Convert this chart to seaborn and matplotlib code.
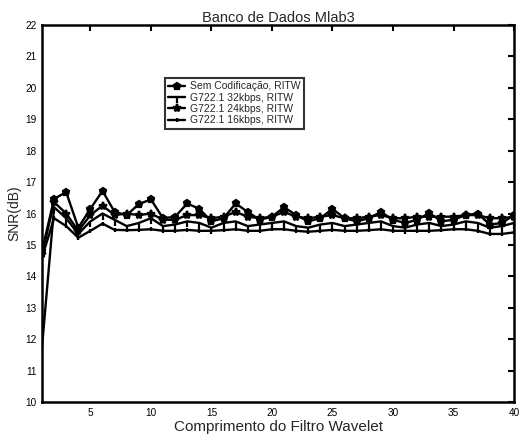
import matplotlib
matplotlib.use("Agg")
import matplotlib.pyplot as plt
import seaborn as sns
import pandas as pd
import numpy as np

x = list(range(1, 41))

sem_cod = [14.8, 16.47, 16.68, 15.55, 16.15, 16.72, 16.05, 15.95, 16.3, 16.45,
           15.85, 15.9, 16.32, 16.15, 15.75, 15.85, 16.32, 16.05, 15.8, 15.9,
           16.2, 15.95, 15.75, 15.85, 16.15, 15.85, 15.75, 15.85, 16.05, 15.8,
           15.7, 15.8, 16.02, 15.75, 15.8, 15.95, 16.0, 15.65, 15.7, 15.95]

k32 = [11.75, 16.2, 15.85, 15.35, 15.75, 16.0, 15.8, 15.6, 15.7, 15.85,
       15.6, 15.65, 15.75, 15.7, 15.55, 15.7, 15.75, 15.6, 15.65, 15.7,
       15.75, 15.6, 15.55, 15.65, 15.7, 15.6, 15.65, 15.7, 15.75, 15.6,
       15.55, 15.65, 15.7, 15.6, 15.65, 15.75, 15.7, 15.55, 15.6, 15.7]

k24 = [14.7, 16.36, 16.0, 15.45, 15.95, 16.25, 15.95, 16.0, 15.95, 16.0,
       15.8, 15.8, 15.95, 15.95, 15.85, 15.9, 16.05, 15.9, 15.85, 15.9,
       16.05, 15.9, 15.85, 15.9, 15.95, 15.85, 15.85, 15.9, 15.95, 15.85,
       15.85, 15.9, 15.9, 15.9, 15.9, 15.95, 15.95, 15.85, 15.85, 15.9]

k16 = [14.6, 15.85, 15.6, 15.23, 15.45, 15.68, 15.48, 15.47, 15.48, 15.5,
       15.45, 15.45, 15.48, 15.45, 15.45, 15.47, 15.5, 15.45, 15.45, 15.5,
       15.5, 15.45, 15.42, 15.45, 15.48, 15.45, 15.45, 15.47, 15.5, 15.45,
       15.45, 15.45, 15.45, 15.47, 15.5, 15.5, 15.45, 15.35, 15.35, 15.4]

labels = ["Sem Codificação, RITW", "G722.1 32kbps, RITW",
          "G722.1 24kbps, RITW", "G722.1 16kbps, RITW"]
series = [sem_cod, k32, k24, k16]
markers = ["p", 3, "*", "|"]
msizes = [4.5, 4, 6, 3]
xticks = [5, 10, 15, 20, 25, 30, 35, 40]
yticks = list(range(10, 23))

sns.set_style("white")
plt.rcParams["font.family"] = ["Liberation Sans", "DejaVu Sans"]

fig = plt.figure(figsize=(5.21, 4.41), dpi=100)
ax = fig.add_axes([0.0806, 0.0884, 0.906, 0.8548])

for lab, ys, m, ms in zip(labels, series, markers, msizes):
    df = pd.DataFrame({"x": x, "y": ys})
    sns.lineplot(data=df, x="x", y="y", ax=ax, color="black", linewidth=1.7,
                 marker=m, markersize=ms, markeredgewidth=1.6,
                 markerfacecolor="black", markeredgecolor="black", label=lab)

ax.set_xlim(1, 40)
ax.set_ylim(10, 22)
ax.set_xticks(xticks)
ax.set_yticks(yticks)
ax.tick_params(direction="in", length=4, width=1.5, labelsize=7.2,
               top=True, right=True, colors="black", pad=4)
for s in ax.spines.values():
    s.set_linewidth(1.8)
    s.set_color("black")
    s.set_visible(True)

ax.set_title("Banco de Dados Mlab3", fontsize=10.5, pad=2)
ax.set_xlabel("Comprimento do Filtro Wavelet", fontsize=11, labelpad=2)
ax.set_ylabel("SNR(dB)", fontsize=10, labelpad=3)

leg = ax.legend(loc="upper left", bbox_to_anchor=(0.26, 0.86), fontsize=7.5,
                frameon=True, fancybox=False, borderpad=0.35, labelspacing=0.12,
                handlelength=1.6, handletextpad=0.5, borderaxespad=0)
leg.get_frame().set_edgecolor("black")
leg.get_frame().set_linewidth(1.5)

fig.savefig("out.png", dpi=100)
